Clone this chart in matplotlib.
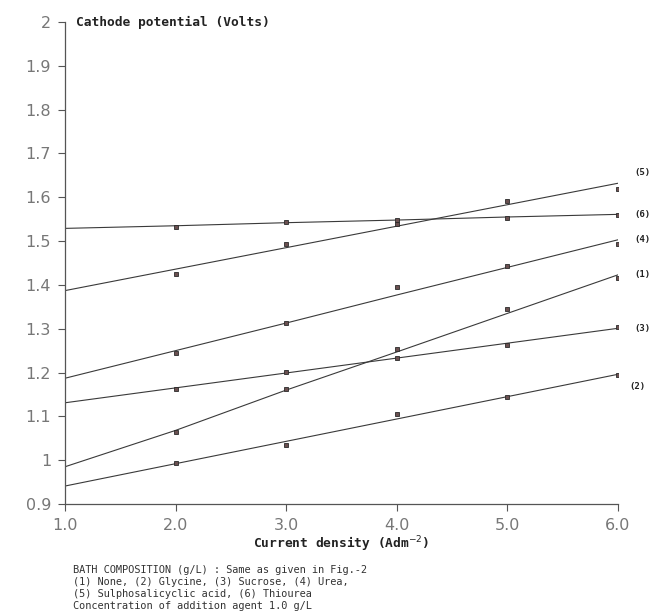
import matplotlib
matplotlib.use('Agg')
import matplotlib.pyplot as plt

# --------------------
# DATA
# --------------------

# current density (A dm^-2) at which measurements were taken
current_density = [2.0, 3.0, 4.0, 5.0, 6.0]

# measured cathode potential (V) for each bath additive
none_pts = [1.065, 1.162, 1.253, 1.344, 1.415]          # (1)
glycine_pts = [0.994, 1.035, 1.105, 1.144, 1.194]       # (2)
sucrose_pts = [1.162, 1.201, 1.234, 1.264, 1.305]       # (3)
urea_pts = [1.244, 1.312, 1.395, 1.443, 1.493]          # (4)
sulpho_pts = [1.424, 1.493, 1.540, 1.591, 1.620]        # (5)
thiourea_pts = [1.533, 1.544, 1.547, 1.553, 1.560]      # (6)

# the drawn (fitted) lines, read at 1.0 ... 6.0
fit_x = [1.0, 2.0, 3.0, 4.0, 5.0, 6.0]
none_fit = [0.985, 1.068, 1.160, 1.247, 1.335, 1.423]
glycine_fit = [0.941, 0.992, 1.043, 1.094, 1.145, 1.196]
sucrose_fit = [1.131, 1.165, 1.199, 1.233, 1.267, 1.301]
urea_fit = [1.187, 1.250, 1.313, 1.377, 1.440, 1.503]
sulpho_fit = [1.387, 1.436, 1.485, 1.534, 1.583, 1.632]
thiourea_fit = [1.529, 1.535, 1.542, 1.548, 1.555, 1.561]

series_labels = ['(1)', '(2)', '(3)', '(4)', '(5)', '(6)']

x_ticks = [1.0, 2.0, 3.0, 4.0, 5.0, 6.0]
x_tick_labels = ['1.0', '2.0', '3.0', '4.0', '5.0', '6.0']
y_ticks = [0.9, 1.0, 1.1, 1.2, 1.3, 1.4, 1.5, 1.6, 1.7, 1.8, 1.9, 2.0]
y_tick_labels = ['0.9', '1', '1.1', '1.2', '1.3', '1.4', '1.5', '1.6',
                 '1.7', '1.8', '1.9', '2']

caption = ["BATH COMPOSITION (g/L) : Same as given in Fig.-2",
           "(1) None, (2) Glycine, (3) Sucrose, (4) Urea,",
           "(5) Sulphosalicyclic acid, (6) Thiourea",
           "Concentration of addition agent 1.0 g/L"]

# ----------------------------

pts = [none_pts, glycine_pts, sucrose_pts, urea_pts, sulpho_pts, thiourea_pts]
fits = [none_fit, glycine_fit, sucrose_fit, urea_fit, sulpho_fit, thiourea_fit]
# label offsets in points from the end of each line
label_offsets = [(12, 0), (8, -9), (12, 0), (12, 0), (12, 8), (12, 0)]

fig = plt.figure(figsize=(6.51, 6.13), dpi=100)
ax = fig.add_axes([65 / 651, 1 - 504 / 613, 553 / 651, 482 / 613])

line_col = '#3a3a3a'
for p, f, lab, off in zip(pts, fits, series_labels, label_offsets):
    ax.plot(fit_x, f, '-', color=line_col, lw=0.8)
    ax.plot(current_density, p, 's', ms=3.2, mfc='#6a5050', mec='#2a2a2a',
            mew=0.6)
    ax.annotate(lab, xy=(fit_x[-1], f[-1]), xytext=off,
                textcoords='offset points', fontsize=6.5, fontweight='bold',
                family='DejaVu Sans Mono', va='center', ha='left',
                color='#222', annotation_clip=False)

ax.set_xlim(1.0, 6.0)
ax.set_ylim(0.9, 2.0)
ax.set_xticks(x_ticks)
ax.set_xticklabels(x_tick_labels)
ax.set_yticks(y_ticks)
ax.set_yticklabels(y_tick_labels)

for s in ['top', 'right']:
    ax.spines[s].set_visible(False)
for s in ['left', 'bottom']:
    ax.spines[s].set_color('#555')
    ax.spines[s].set_linewidth(0.9)

ax.tick_params(axis='both', direction='out', length=5, width=0.8,
               color='#555', labelsize=11.5, labelcolor='#777', pad=5)

ax.text(0.02, 1.0, 'Cathode potential (Volts)', transform=ax.transAxes,
        fontsize=9.3, fontweight='bold', family='DejaVu Sans Mono',
        va='center', ha='left', color='#222')

ax.set_xlabel('Current density (Adm$^{-2}$)', fontsize=9.3,
              fontweight='bold', family='DejaVu Sans Mono', color='#222',
              labelpad=1)

for i, line in enumerate(caption):
    fig.text(73 / 651, 1 - (570 + 12 * i) / 613, line,
             family='DejaVu Sans Mono', fontsize=7.4, color='#333',
             va='center', ha='left')

fig.savefig('out.png', dpi=100, facecolor='white')
